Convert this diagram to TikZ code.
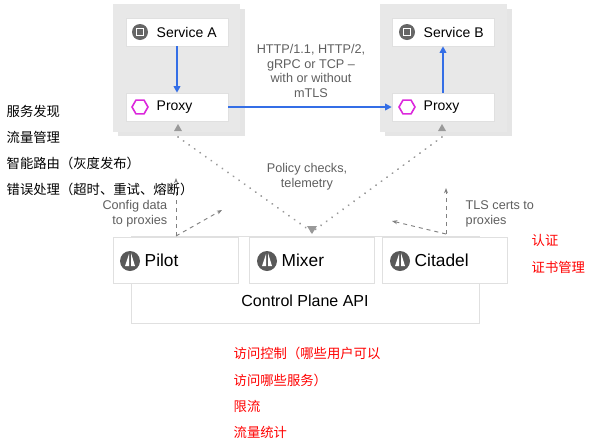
\documentclass[tikz,border=0pt]{standalone}
\usepackage{fontspec}
\setmainfont{Liberation Sans}
\newfontfamily\cjk{Noto Sans CJK SC}
\usetikzlibrary{shapes.geometric,arrows.meta,positioning}
\definecolor{podgrey}{RGB}{232,232,232}
\definecolor{flowblue}{RGB}{52,110,230}
\definecolor{txtgrey}{RGB}{95,95,95}
\definecolor{hexpink}{RGB}{220,40,220}
\tikzset{
  card/.style={draw=black!12,fill=white,minimum width=76.5pt,minimum height=21pt},
  plane/.style={draw=black!12,fill=white,minimum width=94pt,minimum height=34.5pt},
  flow/.style={draw=flowblue,line width=1.2pt,-{Triangle[length=5pt,width=5pt]}},
  dots/.style={draw=black!40,line width=1.5pt,dash pattern=on 0.1pt off 5pt,line cap=round},
  ctrl/.style={draw=black!50,dashed,line width=0.7pt,-{Stealth[length=4pt]}},
  note/.style={text=txtgrey,font=\fontsize{9.5}{11}\selectfont,align=center},
  cn/.style={anchor=west,font=\cjk\fontsize{10}{12}\selectfont},
  chip/.style={circle,fill=black!60,minimum size=12pt,inner sep=0pt},
  sail/.style={circle,fill=black!65,minimum size=15pt,inner sep=0pt},
  hex/.style={regular polygon,regular polygon sides=6,draw=hexpink,line width=1.2pt,minimum size=12pt,inner sep=0pt}
}
\begin{document}
\begin{tikzpicture}[x=0.75pt,y=-0.75pt]
\useasboundingbox (0,0) rectangle (600,440);
% pods
\fill[black!10] (118,9) rectangle (245,136);
\fill[podgrey] (113,4) rectangle (240,132);
\fill[black!10] (385,9) rectangle (512,136);
\fill[podgrey] (380,4) rectangle (507,132);
\node[card] (svcA) at (177,32) {};
\node[card] (prxA) at (177,107) {};
\node[card] (svcB) at (443,32) {};
\node[card] (prxB) at (443,107) {};
\node[chip] (chipA) at (140,32) {}; \node[draw=white,line width=0.6pt,minimum size=5pt,inner sep=0pt] at (chipA) {};
\node[chip] (chipB) at (407,32) {}; \node[draw=white,line width=0.6pt,minimum size=5pt,inner sep=0pt] at (chipB) {};
\node[hex] at (140,107) {};
\node[hex] at (407,107) {};
\node[anchor=west,font=\fontsize{10.5}{12}\selectfont] at (152,32) {Service A};
\node[anchor=west,font=\fontsize{10.5}{12}\selectfont] at (419,32) {Service B};
\node[anchor=west,font=\fontsize{10.5}{12}\selectfont] at (152,107) {Proxy};
\node[anchor=west,font=\fontsize{10.5}{12}\selectfont] at (419,107) {Proxy};
% blue traffic
\draw[flow] (svcA) -- (prxA);
\draw[flow] (prxA) -- (prxB);
\draw[flow] (prxB) -- (svcB);
\node[note] (proto) at (311,71) {HTTP/1.1, HTTP/2,\\gRPC or TCP --\\with or without\\mTLS};
% control plane
\node[draw=black!12,fill=white,minimum width=261pt,minimum height=65pt] (api) at (305,280) {};
\node[plane] (pilot) at (176,260) {};
\node[plane] (mixer) at (312,260) {};
\node[plane] (citadel) at (445,260) {};
\node[font=\fontsize{12}{14}\selectfont] at (305,301) {Control Plane API};
\foreach \n/\t/\px in {pilot/Pilot/130,mixer/Mixer/267,citadel/Citadel/400}{
  \node[sail] at (\px,261) {};
  \fill[white] (\px-1,254) -- (\px-1,266) -- (\px-5,266) -- cycle (\px+1,253) -- (\px+1,266) -- (\px+5,266) -- cycle;
  \node[anchor=west,font=\fontsize{13}{15}\selectfont] at (\px+10,260) {\t};
}
% telemetry
\coordinate (mixTop) at (312,232);
\draw[dots] (178,137) -- (mixTop);
\draw[dots] (442,137) -- (mixTop);
\fill[black!40] (178,124) -- (174,131) -- (182,131) -- cycle;
\fill[black!40] (442,124) -- (438,131) -- (446,131) -- cycle;
\fill[black!40] (312,234) -- (307,226) -- (317,226) -- cycle;
\node[note] at (307,177) {Policy checks,\\telemetry};
% config and certs
\coordinate (pilotUp) at (176,178);
\coordinate (pilotSide) at (222,210);
\coordinate (citUp) at (446,188);
\coordinate (citSide) at (392,221);
\draw[ctrl] (176,236) -- (pilotUp);
\draw[ctrl] (176,236) -- (pilotSide);
\draw[ctrl] (446,234) -- (citUp);
\draw[ctrl] (446,234) -- (citSide);
\node[note,align=right,anchor=east] at (172,214) {Config data\\to proxies};
\node[note,align=left,anchor=west] at (461,214) {TLS certs to\\proxies};
% annotations
\node[cn] at (2,111) {服务发现};
\node[cn] at (2,137) {流量管理};
\node[cn] at (2,163) {智能路由（灰度发布）};
\node[cn] at (2,189) {错误处理（超时、重试、熔断）};
\node[cn,text=red] at (527,240) {认证};
\node[cn,text=red] at (527,267) {证书管理};
\node[cn,text=red] at (229,353) {访问控制（哪些用户可以};
\node[cn,text=red] at (229,380) {访问哪些服务）};
\node[cn,text=red] at (229,406) {限流};
\node[cn,text=red] at (229,432) {流量统计};
\end{tikzpicture}
\end{document}
